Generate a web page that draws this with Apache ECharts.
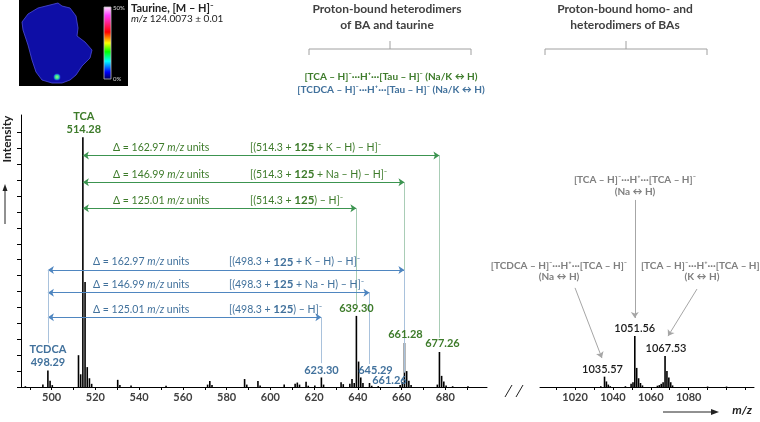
<!DOCTYPE html>
<html><head><meta charset="utf-8">
<script src="https://cdn.jsdelivr.net/npm/echarts@6/dist/echarts.min.js"></script>
<style>html,body{margin:0;padding:0;background:#fff}#c{width:760px;height:422px}</style>
</head><body><div id="c"></div>
<script>
// ---------------- data ----------------
const leftMz  = [488, 496, 498.29, 499.29, 500.3, 512.28, 513.28, 514.28, 515.28, 516.28, 517.28, 518.3, 530.2, 531.2, 536.3, 552.3, 571.3, 572.3, 573.3, 588.2, 589.2, 594.3, 595.3, 606.3, 611.3, 612.3, 613.3, 616.3, 617.3, 620.3, 623.30, 624.3, 632.3, 633.3, 636.3, 637.3, 638.3, 639.30, 640.30, 641.30, 642.3, 645.29, 646.3, 649.3, 659.3, 660.3, 661.28, 662.28, 663.28, 664.3, 676.3, 677.26, 678.26, 679.26, 680.3, 683.3, 690.3];
const leftInt = [0.05, 0.15, 1.03, 0.4, 0.12, 2.0, 0.8, 15.7, 6.6, 1.25, 0.55, 0.2, 0.45, 0.12, 0.1, 0.08, 0.15, 0.38, 0.12, 0.5, 0.15, 0.38, 0.1, 0.15, 0.2, 0.28, 0.15, 0.33, 0.08, 0.1, 0.6, 0.15, 0.3, 0.18, 0.2, 0.5, 0.25, 4.47, 1.6, 0.6, 0.25, 0.25, 0.08, 0.06, 0.12, 0.3, 2.77, 1.0, 0.4, 0.12, 0.15, 2.2, 0.7, 0.35, 0.1, 0.05, 0.05];
const rightMz  = [1033.6, 1035.57, 1036.57, 1037.57, 1038.6, 1046.6, 1049.6, 1050.6, 1051.56, 1052.56, 1053.56, 1054.56, 1055.6, 1063.5, 1064.5, 1065.5, 1066.5, 1067.53, 1068.53, 1069.53, 1070.53, 1071.5, 1090, 1100];
const rightInt = [0.05, 0.65, 0.35, 0.15, 0.05, 0.05, 0.2, 0.3, 3.2, 1.2, 0.55, 0.25, 0.1, 0.08, 0.12, 0.2, 0.3, 1.95, 1.0, 0.6, 0.3, 0.1, 0.03, 0.03];

const leftTickValues  = [490, 500, 510, 520, 530, 540, 550, 560, 570, 580, 590, 600, 610, 620, 630, 640, 650, 660, 670, 680, 690];
const leftLabelValues = [500, 520, 540, 560, 580, 600, 620, 640, 660, 680];
const rightTickValues  = [1010, 1020, 1030, 1040, 1050, 1060, 1070, 1080, 1090, 1100, 1110];
const rightLabelValues = [1020, 1040, 1060, 1080];
const yTickValues = [0, 1, 2, 3, 4, 5, 6, 7, 8, 9, 10, 11, 12, 13, 14, 15, 16];

const tcaMz = 514.28, tcdcaMz = 498.29;
const greenTargets = [677.26, 661.28, 639.30];
const blueTargets  = [661.26, 645.29, 623.30];
const deltaTexts   = ['162.97', '146.99', '125.01'];
const greenFormulas = ['[(514.3 + {b|125} + K – H) – H]⁻', '[(514.3 + {b|125} + Na – H) – H]⁻', '[(514.3 + {b|125}) – H]⁻'];
const blueFormulas  = ['[(498.3 + {b|125} + K – H) – H]⁻', '[(498.3 + {b|125} + Na - H) – H]⁻', '[(498.3 + {b|125}) – H]⁻'];

// ---------------- styles ----------------
const F = 'Lato, "Noto Sans", sans-serif';
const GREEN_T = '#3d7b2a', GREEN_L = '#3c9450', GREEN_V = '#a9cdb6';
const BLUE_T = '#41719c', BLUE_L = '#4f86c0', BLUE_V = '#a9c2dc';
const GRAY_T = '#7f7f7f', GRAY_L = '#a6a6a6';

// layout rows (intensity units) for arrows
const greenRowY = [14.55, 12.87, 11.24];
const blueRowY  = [7.36, 5.93, 4.38];
const greenVEnd = [3.1, 3.6, 5.2];
const blueVEnd  = [0.9, 1.45, 1.5];

const chart = echarts.init(document.getElementById('c'), null, {renderer: 'canvas'});

const ml = [];
greenTargets.forEach((t, i) => {
  ml.push([{coord: [tcaMz, greenRowY[i]], symbol: 'arrow', lineStyle: {color: GREEN_L, width: 1, type: 'solid'}},
           {coord: [t, greenRowY[i]], symbol: 'arrow'}]);
  ml.push([{coord: [t, greenRowY[i]], symbol: 'none', lineStyle: {color: GREEN_V, width: 1, type: 'solid'}},
           {coord: [t, greenVEnd[i]], symbol: 'none'}]);
});
blueTargets.forEach((t, i) => {
  ml.push([{coord: [tcdcaMz, blueRowY[i]], symbol: 'arrow', lineStyle: {color: BLUE_L, width: 1, type: 'solid'}},
           {coord: [t, blueRowY[i]], symbol: 'arrow'}]);
  ml.push([{coord: [t, blueRowY[i]], symbol: 'none', lineStyle: {color: BLUE_V, width: 1, type: 'solid'}},
           {coord: [t, blueVEnd[i]], symbol: 'none'}]);
});
ml.push([{coord: [tcdcaMz, blueRowY[0]], symbol: 'none', lineStyle: {color: BLUE_V, width: 1, type: 'solid'}},
         {coord: [tcdcaMz, 2.75], symbol: 'none'}]);

const mlRight = [
  [{coord: [1051.56, 11.76], symbol: 'none', lineStyle: {color: GRAY_L, width: 1, type: 'solid'}}, {coord: [1051.56, 4.34], symbol: 'arrow'}],
  [{coord: [1020, 6.23], symbol: 'none', lineStyle: {color: GRAY_L, width: 1, type: 'solid'}}, {coord: [1034.2, 1.82], symbol: 'arrow'}],
  [{coord: [1084.4, 6.16], symbol: 'none', lineStyle: {color: GRAY_L, width: 1, type: 'solid'}}, {coord: [1069.1, 3.2], symbol: 'arrow'}]
];

const xAxisCommon = {
  type: 'value', axisLine: {onZero: true, lineStyle: {color: '#000', width: 1}},
  splitLine: {show: false}
};
const plain = v => String(v);

const option = {
  animation: false,
  backgroundColor: '#fff',
  grid: [
    {left: 21, top: 115, width: 466, height: 272, containLabel: false, outerBoundsMode: 'none'},
    {left: 540, top: 115, width: 214, height: 272, containLabel: false, outerBoundsMode: 'none'}
  ],
  xAxis: [
    Object.assign({}, xAxisCommon, {gridIndex: 0, min: 486, max: 699,
      axisTick: {customValues: leftTickValues, length: 3, lineStyle: {color: '#000'}},
      axisLabel: {customValues: leftLabelValues, formatter: plain, color: '#404040', fontFamily: F, fontSize: 11, fontWeight: 'bold', margin: 5}}),
    Object.assign({}, xAxisCommon, {gridIndex: 1, min: 1001.5, max: 1114.5,
      axisTick: {customValues: rightTickValues, length: 3, lineStyle: {color: '#000'}},
      axisLabel: {customValues: rightLabelValues, formatter: plain, color: '#404040', fontFamily: F, fontSize: 11, fontWeight: 'bold', margin: 5}})
  ],
  yAxis: [
    {type: 'value', gridIndex: 0, min: 0, max: 17.1,
     axisLine: {show: true, lineStyle: {color: '#000', width: 1}},
     axisTick: {show: true, customValues: yTickValues, length: 4, lineStyle: {color: '#000'}},
     axisLabel: {show: false}, splitLine: {show: false}},
    {type: 'value', gridIndex: 1, min: 0, max: 17.1, show: false, splitLine: {show: false}}
  ],
  series: [
    {type: 'bar', xAxisIndex: 0, yAxisIndex: 0, barWidth: 1.6, itemStyle: {color: '#000'},
     data: leftMz.map((m, i) => [m, leftInt[i]]), silent: true,
     markLine: {silent: true, symbolSize: 6, label: {show: false}, lineStyle: {type: 'solid'}, animation: false, data: ml}},
    {type: 'bar', xAxisIndex: 1, yAxisIndex: 1, barWidth: 1.6, itemStyle: {color: '#000'},
     data: rightMz.map((m, i) => [m, rightInt[i]]), silent: true,
     markLine: {silent: true, symbolSize: 6, label: {show: false}, lineStyle: {type: 'solid'}, animation: false, data: mlRight}}
  ]
};
chart.setOption(option);

// ---------------- annotations ----------------
const px = (g, x, y) => chart.convertToPixel({xAxisIndex: g, yAxisIndex: g}, [x, y]);
const intAt = (arr, ints, m) => ints[arr.indexOf(m)];
const g = [];
function txt(x, y, text, o) {
  o = o || {};
  g.push({type: 'text', x: x, y: y, silent: true, z: 10, rotation: o.rotation || 0,
    style: {text: text, fill: o.fill || '#000', fontFamily: F, fontSize: o.size || 10,
      fontWeight: o.weight || 'normal', fontStyle: o.style || 'normal',
      align: o.align || 'center', verticalAlign: o.va || 'middle', lineHeight: o.lh,
      rich: o.rich}});
}
function peakLabel(grid, mzArr, intArr, m, text, color, dx, dy, weight) {
  const p = px(grid, m, intAt(mzArr, intArr, m));
  txt(p[0] + dx, p[1] + dy, text, {fill: color, size: 11, weight: weight || 'bold', va: 'bottom', lh: 13});
}
peakLabel(0, leftMz, leftInt, 514.28, 'TCA\n514.28', GREEN_T, 1, -1);
peakLabel(0, leftMz, leftInt, 498.29, 'TCDCA\n498.29', BLUE_T, 0, -2);
peakLabel(0, leftMz, leftInt, 639.30, '639.30', GREEN_T, 0, -1);
peakLabel(0, leftMz, leftInt, 661.28, '661.28', GREEN_T, 1, -2);
peakLabel(0, leftMz, leftInt, 677.26, '677.26', GREEN_T, 3, -2);
peakLabel(0, leftMz, leftInt, 623.30, '623.30', BLUE_T, 0, -1);
peakLabel(0, leftMz, leftInt, 645.29, '645.29', BLUE_T, 6, -6);
(function () { const p = px(0, 661.26, 0); txt(p[0] - 15, p[1] - 1, '661.26', {fill: BLUE_T, size: 11, weight: 'bold', va: 'bottom'}); })();
peakLabel(1, rightMz, rightInt, 1035.57, '1035.57', '#1a1a1a', -2, -1, '600');
peakLabel(1, rightMz, rightInt, 1051.56, '1051.56', '#1a1a1a', 0, -1, '600');
peakLabel(1, rightMz, rightInt, 1067.53, '1067.53', '#1a1a1a', 1, -1, '600');

// delta rows
const richG = {i: {fontStyle: 'italic', fill: GREEN_T, fontFamily: F, fontSize: 10.5}, b: {fontWeight: 'bold', fill: GREEN_T, fontFamily: F, fontSize: 11.5}};
const richB = {i: {fontStyle: 'italic', fill: BLUE_T, fontFamily: F, fontSize: 10.5}, b: {fontWeight: 'bold', fill: BLUE_T, fontFamily: F, fontSize: 11.5}};
greenRowY.forEach((yv, i) => {
  const p = px(0, tcaMz, yv);
  txt(113, p[1] - 8, 'Δ = ' + deltaTexts[i] + ' {i|m/z} units', {fill: GREEN_T, align: 'left', size: 10.5, rich: richG});
  txt(250, p[1] - 8, greenFormulas[i], {fill: GREEN_T, align: 'left', size: 10.5, rich: richG});
});
blueRowY.forEach((yv, i) => {
  const p = px(0, tcdcaMz, yv);
  txt(93, p[1] - 8, 'Δ = ' + deltaTexts[i] + ' {i|m/z} units', {fill: BLUE_T, align: 'left', size: 10.5, rich: richB});
  txt(229, p[1] - 8, blueFormulas[i], {fill: BLUE_T, align: 'left', size: 10.5, rich: richB});
});

// right panel gray captions
txt(635, 180, '[TCA – H]⁻···H⁺···[TCA – H]⁻', {fill: GRAY_T, weight: 'bold'});
txt(635, 192, '(Na ↔ H)', {fill: GRAY_T, weight: 'bold'});
txt(559, 266, '[TCDCA – H]⁻···H⁺···[TCA – H]⁻', {fill: GRAY_T, weight: 'bold'});
txt(559, 277, '(Na ↔ H)', {fill: GRAY_T, weight: 'bold'});
txt(702, 266, '[TCA – H]⁻···H⁺···[TCA – H]⁻', {fill: GRAY_T, weight: 'bold'});
txt(702, 277, '(K ↔ H)', {fill: GRAY_T, weight: 'bold'});

// headers
txt(387, 9, 'Proton-bound heterodimers', {fill: '#404040', size: 12, weight: 'bold'});
txt(387, 25, 'of BA and taurine', {fill: '#404040', size: 12, weight: 'bold'});
txt(625, 9, 'Proton-bound homo- and', {fill: '#404040', size: 12, weight: 'bold'});
txt(625, 25, 'heterodimers of BAs', {fill: '#404040', size: 12, weight: 'bold'});
txt(391, 77, '[TCA – H]⁻···H⁺···[Tau – H]⁻ (Na/K ↔ H)', {fill: GREEN_T, weight: 'bold'});
txt(391, 90, '[TCDCA – H]⁻···H⁺···[Tau – H]⁻ (Na/K ↔ H)', {fill: BLUE_T, weight: 'bold'});

// brackets
const BR = '#a0a0a0';
function bracket(x1, x2, xc) {
  g.push({type: 'polyline', silent: true, shape: {points: [[x1, 55], [x1, 49], [x2, 49], [x2, 55]]}, style: {stroke: BR, lineWidth: 1, fill: null}});
  g.push({type: 'line', silent: true, shape: {x1: xc, y1: 41, x2: xc, y2: 49}, style: {stroke: BR, lineWidth: 1}});
}
bracket(309, 471, 390);
bracket(545, 707, 626);

// Intensity label + arrow
txt(7, 139, 'Intensity', {fill: '#222', size: 12, weight: 'bold', rotation: Math.PI / 2});
g.push({type: 'line', silent: true, shape: {x1: 5, y1: 224, x2: 5, y2: 189}, style: {stroke: '#222', lineWidth: 1}});
g.push({type: 'polygon', silent: true, shape: {points: [[5, 184], [2.5, 191], [7.5, 191]]}, style: {fill: '#222'}});

// m/z arrow
g.push({type: 'line', silent: true, shape: {x1: 663, y1: 412, x2: 713, y2: 412}, style: {stroke: '#222', lineWidth: 1}});
g.push({type: 'polygon', silent: true, shape: {points: [[719, 412], [711, 409], [711, 415]]}, style: {fill: '#222'}});
txt(742, 410, 'm/z', {fill: '#222', size: 12, weight: 'bold', style: 'italic'});

// axis break
g.push({type: 'line', silent: true, shape: {x1: 505, y1: 397, x2: 512, y2: 385}, style: {stroke: '#222', lineWidth: 1}});
g.push({type: 'line', silent: true, shape: {x1: 516, y1: 397, x2: 523, y2: 385}, style: {stroke: '#222', lineWidth: 1}});

// inset image
g.push({type: 'rect', silent: true, shape: {x: 19, y: 0, width: 109, height: 86}, style: {fill: '#000'}});
g.push({type: 'polygon', silent: true, shape: {points: [[50, 5], [58, 3], [62, 6], [70, 8], [76, 16], [78, 28], [77, 36], [85, 42], [92, 50], [90, 58], [82, 66], [76, 75], [70, 80], [62, 83], [52, 83], [42, 80], [36, 72], [32, 60], [28, 45], [23, 30], [22, 22], [28, 14], [38, 8]]},
  style: {fill: '#0e0ea6', stroke: '#4b4bdc', lineWidth: 0.8}});
g.push({type: 'circle', silent: true, shape: {cx: 57, cy: 77, r: 3.5}, style: {fill: {type: 'radial', x: 0.5, y: 0.5, r: 0.5, colorStops: [{offset: 0, color: '#9dff7a'}, {offset: 0.6, color: '#22d6a0'}, {offset: 1, color: 'rgba(40,80,255,0.5)'}]}}});
g.push({type: 'rect', silent: true, shape: {x: 104, y: 7, width: 7, height: 72},
  style: {stroke: '#bbb', lineWidth: 0.8, fill: {type: 'linear', x: 0, y: 0, x2: 0, y2: 1, colorStops: [
    {offset: 0, color: '#ffe8ff'}, {offset: 0.12, color: '#ff3cff'}, {offset: 0.35, color: '#ff0000'}, {offset: 0.5, color: '#ffff00'},
    {offset: 0.62, color: '#00ff00'}, {offset: 0.75, color: '#00ffff'}, {offset: 0.9, color: '#0000ff'}, {offset: 1, color: '#000050'}]}}});
txt(113, 8, '50%', {fill: '#ddd', size: 6, align: 'left'});
txt(113, 79, '0%', {fill: '#ddd', size: 6, align: 'left'});
txt(131, 8, 'Taurine, [M – H]⁻', {fill: '#222', size: 11, weight: 'bold', align: 'left'});
txt(131, 19, '{i|m/z} 124.0073 ± 0.01', {fill: '#222', size: 10, align: 'left', rich: {i: {fontStyle: 'italic', fill: '#222', fontFamily: F, fontSize: 10}}});

chart.setOption({graphic: g});
</script></body></html>
